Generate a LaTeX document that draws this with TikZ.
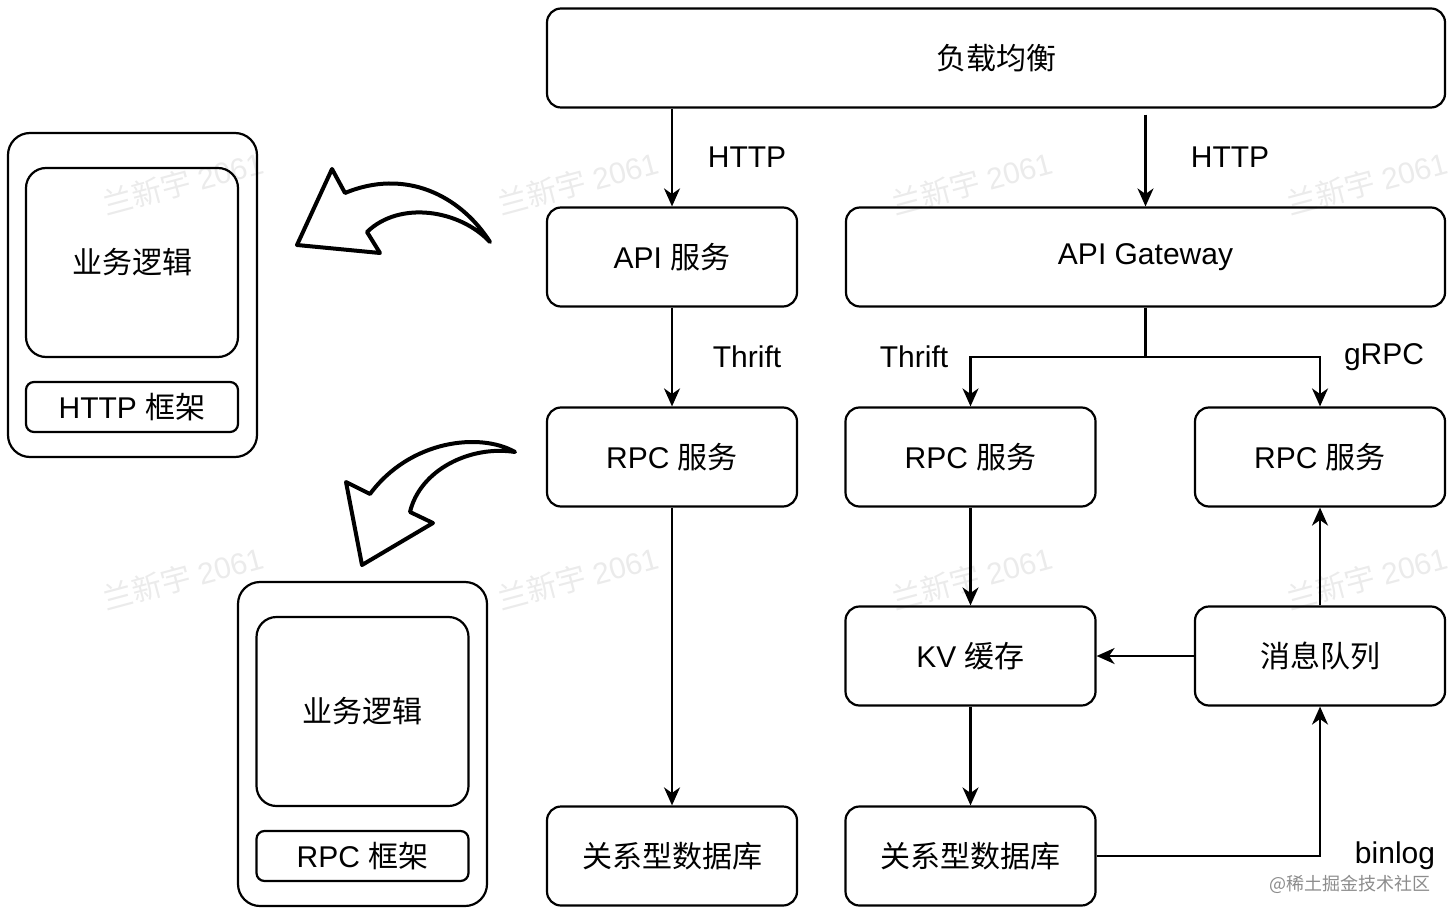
\documentclass[tikz,border=0pt]{standalone}
\usepackage{fontspec}
\setmainfont{Liberation Sans}
\newfontfamily\cjk{Noto Sans CJK SC}
\usetikzlibrary{arrows.meta}

\begin{document}
\begin{tikzpicture}[
				x=0.5pt, y=-0.5pt,
				line width=1.1pt,
				every node/.style={font=\fontsize{15}{17}\selectfont, inner sep=0pt},
				box/.style={draw, rounded corners=7pt, minimum width=125pt, minimum height=49.5pt},
				wide/.style={box, minimum width=299.5pt},
				top/.style={box, minimum width=449pt},
				panel/.style={draw, rounded corners=11pt, minimum width=124.5pt, minimum height=162pt},
				logic/.style={draw, rounded corners=10pt, minimum width=106pt, minimum height=94.5pt},
				frame/.style={draw, rounded corners=4pt, minimum width=106pt, minimum height=25pt},
				wm/.style={text=black!8, rotate=15, font=\fontsize{15}{17}\selectfont},
				arr/.style={-{Stealth[length=9pt, width=8pt, inset=2.8pt]}},
				bigarrow/.style={line width=2pt, line join=round}
			]
			\useasboundingbox (0,0) rectangle (1454,919);

			\foreach \px/\py [count=\i] in {183/183, 578/183, 972/183, 1367/183,
				183/578, 578/578, 972/578, 1367/578}
				\node[wm] (wm\i) at (\px,\py) {{\cjk 兰新宇} 2061};

			\node[top] (lb) at (996,58)		{\cjk 负载均衡};
			\node[box] (api) at (672,257)	{API {\cjk 服务}};
			\node[wide] (gw) at (1145.5,257)	{API Gateway};
			\node[box] (rpcA) at (672,457)	{RPC {\cjk 服务}};
			\node[box] (rpcB) at (970.5,457)	{RPC {\cjk 服务}};
			\node[box] (rpcC) at (1320,457)	{RPC {\cjk 服务}};
			\node[box] (kv) at (970.5,656)	{KV {\cjk 缓存}};
			\node[box] (mq) at (1320,656)	{\cjk 消息队列};
			\node[box] (dbA) at (672,856)	{\cjk 关系型数据库};
			\node[box] (dbB) at (970.5,856)	{\cjk 关系型数据库};

			\node (l1) at (747,157)		{HTTP};
			\node (l2) at (1230,157)	{HTTP};
			\node (l3) at (747,357)		{Thrift};
			\node (l4) at (914,357)		{Thrift};
			\node (l5) at (1384,357)	{gRPC};
			\node (l6) at (1395,856)	{binlog};

			\coordinate (split) at (1145.5,357);

			\draw[arr] (lb.south -| api) -- (api);
			\draw[arr] ([yshift=-3pt]lb.south -| gw) -- (gw);
			\foreach \from/\to in {
				api/rpcA,
				rpcA/dbA,
				rpcB/kv,
				kv/dbB,
				mq/rpcC}
				\draw[arr] (\from) -- (\to);
			\draw (gw) -- (split);
			\draw[arr] (split) -| (rpcB);
			\draw[arr] (split) -| (rpcC);
			\draw[arr] (mq) -- (kv);
			\draw[arr] (dbB) -| (mq);

			\node[panel] (srvA) at (132.5,295)	{};
			\node[logic] (bizA) at (132,262.5)	{\cjk 业务逻辑};
			\node[frame] (fwA) at (132,407)		{HTTP {\cjk 框架}};
			\node[panel] (srvB) at (362.5,744)	{};
			\node[logic] (bizB) at (362.5,711.5)	{\cjk 业务逻辑};
			\node[frame] (fwB) at (362.5,856)	{RPC {\cjk 框架}};

			\draw[bigarrow] (297,245) -- (332,169) -- (345,193)
				.. controls (405,168) and (460,195) .. (490,242)
				.. controls (460,210) and (400,200) .. (367,232)
				-- (380,253) -- cycle;
			\draw[bigarrow] (362,565) -- (346,482) -- (370,494)
				.. controls (410,440) and (480,432) .. (515,452)
				.. controls (470,445) and (420,470) .. (410,512)
				-- (433,523) -- cycle;

			\node[text=black!45, font=\fontsize{9}{11}\selectfont\cjk] (mark) at (1350,884) {@稀土掘金技术社区};

		\end{tikzpicture}
\end{document}
